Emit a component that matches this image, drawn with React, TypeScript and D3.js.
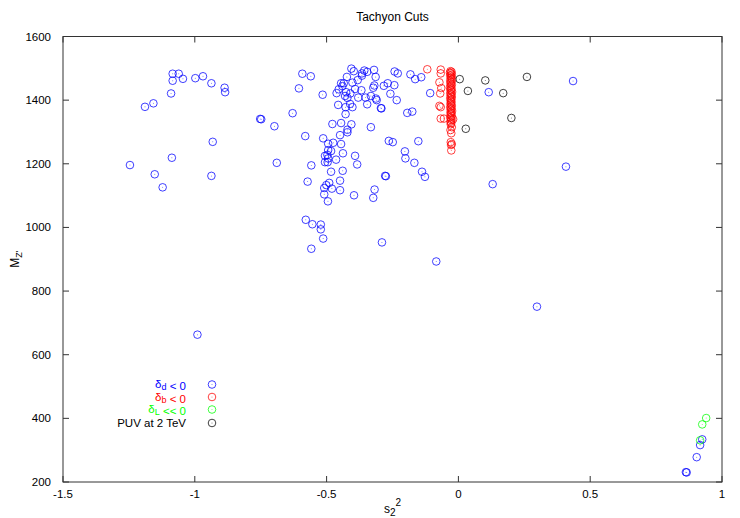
import React from "react";
import * as d3 from "d3";

type Pt = [number, number];

const xTicks = [-1.5, -1, -0.5, 0, 0.5, 1];
const yTicks = [200, 400, 600, 800, 1000, 1200, 1400, 1600];

const deltaD: Pt[] = [
  [-1.084, 1483], [-1.061, 1483], [-1.084, 1461], [-1.045, 1467], [-0.998, 1469], [-0.969, 1475],
  [-0.937, 1453], [-0.887, 1439], [-0.885, 1425], [-1.090, 1421], [-1.157, 1390], [-1.189, 1379],
  [-1.246, 1196], [-1.152, 1167], [-1.122, 1126], [-1.087, 1219], [-0.932, 1269], [-0.937, 1162],
  [-0.990, 663],
  [-0.752, 1341], [-0.748, 1340], [-0.698, 1318], [-0.629, 1359], [-0.605, 1437], [-0.592, 1483],
  [-0.560, 1475], [-0.581, 1287], [-0.689, 1203], [-0.558, 1195], [-0.572, 1144], [-0.579, 1024],
  [-0.554, 1010], [-0.522, 1009], [-0.522, 994], [-0.513, 965], [-0.558, 933], [-0.290, 953],
  [-0.515, 1417], [-0.084, 893], [0.298, 751],
  [-0.513, 1280], [-0.478, 1325], [-0.445, 1328], [-0.406, 1324], [-0.421, 1307], [-0.421, 1299],
  [-0.449, 1290], [-0.456, 1385], [-0.428, 1378], [-0.428, 1356], [-0.411, 1388], [-0.402, 1378],
  [-0.346, 1387], [-0.313, 1405], [-0.294, 1375], [-0.332, 1315], [-0.264, 1272], [-0.249, 1268],
  [-0.494, 1263], [-0.475, 1266], [-0.445, 1262], [-0.494, 1243], [-0.483, 1240], [-0.506, 1225],
  [-0.497, 1228], [-0.494, 1217], [-0.506, 1205], [-0.496, 1205], [-0.464, 1213], [-0.438, 1233],
  [-0.392, 1225], [-0.384, 1198], [-0.483, 1175], [-0.439, 1178], [-0.490, 1140], [-0.501, 1133],
  [-0.509, 1124], [-0.480, 1122], [-0.449, 1147], [-0.449, 1117], [-0.509, 1104], [-0.495, 1082],
  [-0.396, 1101], [-0.318, 1119], [-0.323, 1093], [-0.278, 1162], [-0.275, 1161],
  [-0.406, 1499], [-0.397, 1491], [-0.366, 1484], [-0.346, 1489], [-0.320, 1495], [-0.314, 1473],
  [-0.423, 1473], [-0.445, 1453], [-0.435, 1453], [-0.402, 1455], [-0.382, 1463], [-0.366, 1477],
  [-0.454, 1434], [-0.462, 1422], [-0.426, 1425], [-0.392, 1435], [-0.368, 1431], [-0.410, 1421],
  [-0.380, 1408], [-0.421, 1407], [-0.430, 1413], [-0.352, 1408], [-0.332, 1413], [-0.323, 1439],
  [-0.319, 1446], [-0.283, 1445], [-0.268, 1453], [-0.243, 1447], [-0.258, 1420], [-0.234, 1400],
  [-0.242, 1490], [-0.230, 1484], [-0.310, 1400], [-0.357, 1493], [-0.440, 1444],
  [-0.182, 1481], [-0.164, 1466], [-0.141, 1472], [-0.107, 1422], [-0.194, 1360], [-0.175, 1364],
  [-0.292, 1374], [-0.152, 1271], [-0.203, 1239], [-0.201, 1217], [-0.167, 1203], [-0.138, 1175],
  [-0.127, 1159], [0.115, 1425], [0.435, 1460], [0.408, 1191], [0.130, 1136],
  [0.925, 334], [0.917, 316], [0.904, 278], [0.863, 231], [0.866, 230],
];

const deltaB: Pt[] = [
  [-0.118, 1497], [-0.067, 1496], [-0.067, 1484], [-0.072, 1456], [-0.065, 1438], [-0.069, 1421],
  [-0.072, 1382], [-0.067, 1378], [-0.067, 1342], [-0.055, 1342], [-0.020, 1340],
  [-0.030, 1491], [-0.026, 1489], [-0.032, 1486], [-0.028, 1484], [-0.025, 1480], [-0.031, 1477],
  [-0.027, 1473], [-0.029, 1469], [-0.024, 1465], [-0.031, 1461], [-0.027, 1457], [-0.030, 1453],
  [-0.025, 1449], [-0.028, 1445], [-0.032, 1441], [-0.026, 1437], [-0.030, 1433], [-0.028, 1430],
  [-0.024, 1426], [-0.031, 1422], [-0.027, 1418], [-0.029, 1414], [-0.025, 1410], [-0.031, 1406],
  [-0.027, 1402], [-0.029, 1398], [-0.026, 1394], [-0.030, 1390], [-0.028, 1386], [-0.025, 1382],
  [-0.031, 1378], [-0.027, 1374], [-0.029, 1370], [-0.024, 1366], [-0.030, 1362], [-0.027, 1359],
  [-0.029, 1355], [-0.025, 1350], [-0.031, 1346], [-0.028, 1342], [-0.026, 1337], [-0.030, 1332],
  [-0.027, 1328], [-0.029, 1324], [-0.025, 1315], [-0.030, 1306], [-0.027, 1296], [-0.029, 1268],
  [-0.025, 1262], [-0.028, 1259], [-0.027, 1242],
];

const deltaL: Pt[] = [[0.940, 401], [0.925, 381], [0.917, 331]];

const puv: Pt[] = [
  [0.005, 1466], [0.102, 1462], [0.260, 1473], [0.036, 1429], [0.170, 1422], [0.201, 1344], [0.028, 1310],
];

const series = [
  { name: "d", data: deltaD, color: "#0000ff" },
  { name: "b", data: deltaB, color: "#ff0000" },
  { name: "L", data: deltaL, color: "#00ff00" },
  { name: "puv", data: puv, color: "#000000" },
];

const W = 740;
const H = 518;
const L = 63, R = 722, T = 36.5, B = 482;
const FONT = "'Liberation Sans', Arial, Helvetica, sans-serif";

export default function App() {
  const x = d3.scaleLinear().domain([-1.5, 1]).range([L, R]);
  const y = d3.scaleLinear().domain([200, 1600]).range([B, T]);
  const tk = 6;
  const axisColor = "#333";

  const marker = (cx: number, cy: number, color: string, key: string) => (
    <g key={key}>
      <circle cx={cx} cy={cy} r={3.8} fill="none" stroke={color} strokeWidth={1} strokeOpacity={0.75} />
      <circle cx={cx} cy={cy} r={0.5} fill={color} fillOpacity={0.6} />
    </g>
  );

  const sub = (s: string) => (<><tspan>δ</tspan><tspan dy={2} fontSize={9}>{s}</tspan><tspan dy={-2}></tspan></>);
  const legendRows = [
    { color: "#0000ff", label: (<>{sub("d")}<tspan> &lt; 0</tspan></>) },
    { color: "#ff0000", label: (<>{sub("b")}<tspan> &lt; 0</tspan></>) },
    { color: "#00ff00", label: (<>{sub("L")}<tspan> &lt;&lt; 0</tspan></>) },
    { color: "#000000", label: (<>PUV at 2 TeV</>) },
  ];
  const legendY = [384.5, 397, 409.5, 423];

  return (
    <svg width={W} height={H} style={{ position: "absolute", left: 0, top: 0, background: "#fff" }} fontFamily={FONT}>
      <rect x={0} y={0} width={W} height={H} fill="#fff" />
      <text x={(L + R) / 2} y={21} textAnchor="middle" fontSize={12}>Tachyon Cuts</text>

      {xTicks.map((t) => (
        <g key={"xt" + t}>
          <line x1={x(t)} x2={x(t)} y1={B} y2={B - tk} stroke={axisColor} />
          <line x1={x(t)} x2={x(t)} y1={T} y2={T + tk} stroke={axisColor} />
          <text x={x(t)} y={B + 16} textAnchor="middle" fontSize={11.5}>{t}</text>
        </g>
      ))}
      {yTicks.map((t) => (
        <g key={"yt" + t}>
          <line x1={L} x2={L + tk} y1={y(t)} y2={y(t)} stroke={axisColor} />
          <line x1={R} x2={R - tk} y1={y(t)} y2={y(t)} stroke={axisColor} />
          <text x={L - 12} y={y(t) + 4} textAnchor="end" fontSize={11.5}>{t}</text>
        </g>
      ))}
      <rect x={L} y={T} width={R - L} height={B - T} fill="none" stroke={axisColor} strokeWidth={1} />

      <text x={(L + R) / 2} y={513} textAnchor="middle" fontSize={12}>
        <tspan>s</tspan><tspan dy={3} fontSize={10}>2</tspan><tspan dy={-10} fontSize={10}>2</tspan>
      </text>
      <text transform={`translate(19, ${(T + B) / 2}) rotate(-90)`} textAnchor="middle" fontSize={12}>
        <tspan>M</tspan><tspan dy={3} fontSize={9}>Z'</tspan>
      </text>

      {series.map((s) => s.data.map((p, i) => marker(x(p[0]), y(p[1]), s.color, s.name + i)))}

      {legendRows.map((row, i) => (
        <g key={"lg" + i}>
          <text x={186} y={legendY[i] + 3.5} textAnchor="end" fontSize={11.5} fill={row.color}>{row.label}</text>
          {marker(212, legendY[i], row.color, "lm" + i)}
        </g>
      ))}
    </svg>
  );
}
